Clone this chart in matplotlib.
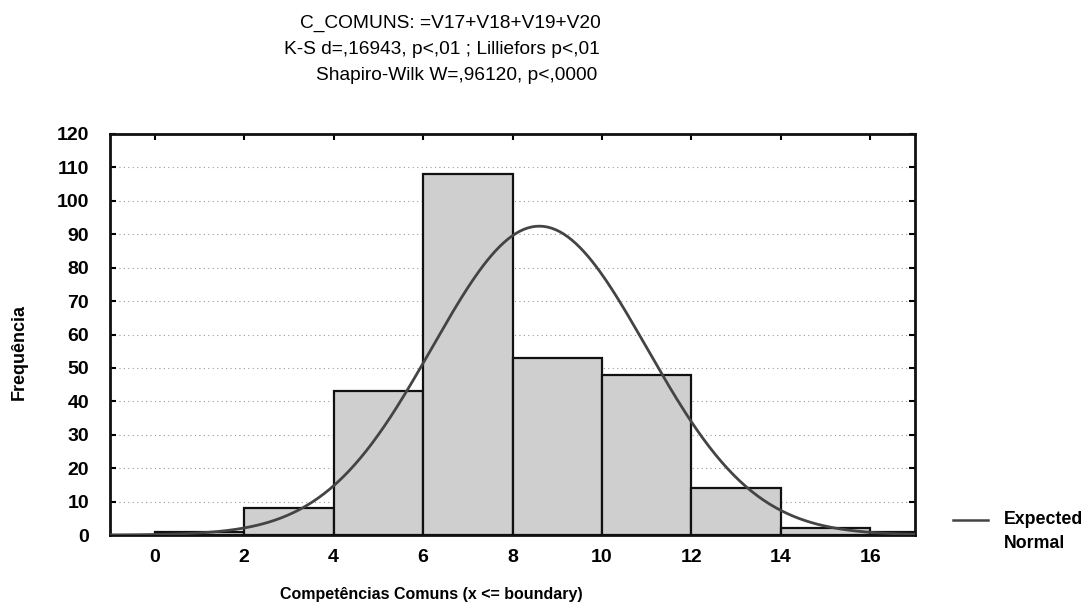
import numpy as np
import matplotlib
matplotlib.use("Agg")
import matplotlib.pyplot as plt

plt.rcParams['font.family'] = ['Liberation Sans', 'DejaVu Sans']

# Data
bin_edges = [0, 2, 4, 6, 8, 10, 12, 14, 16, 18]
counts = [1, 8, 43, 108, 53, 48, 14, 2, 1]
fit_mean = 8.6
fit_sd = 2.4
n_total = sum(counts)
bin_width = 2
x_ticks = [0, 2, 4, 6, 8, 10, 12, 14, 16]
y_ticks = list(range(0, 121, 10))
title_lines = ["C_COMUNS: =V17+V18+V19+V20",
               "K-S d=,16943, p<,01 ; Lilliefors p<,01",
               "Shapiro-Wilk W=,96120, p<,0000"]
x_label = "Competências Comuns (x <= boundary)"
y_label = "Frequência"
legend_lines = ["Expected", "Normal"]

W, H = 1087, 604
fig = plt.figure(figsize=(W / 100, H / 100), dpi=100)
ax = fig.add_axes([110 / W, 1 - 535 / H, (915 - 110) / W, (535 - 134) / H])

lefts = bin_edges[:-1]
widths = np.diff(bin_edges)
ax.bar(lefts, counts, width=widths, align='edge', color='#cfcfcf',
       edgecolor='#111111', linewidth=1.6, zorder=2)

xs = np.linspace(-1, 17, 400)
ys = n_total * bin_width / (fit_sd * np.sqrt(2 * np.pi)) * np.exp(-0.5 * ((xs - fit_mean) / fit_sd) ** 2)
ax.plot(xs, ys, color='#444444', linewidth=2.0, zorder=3)

ax.set_xlim(-1, 17)
ax.set_ylim(0, 120)
ax.set_xticks(x_ticks)
ax.set_yticks(y_ticks)
ax.yaxis.grid(True, linestyle=(0, (1, 3)), color='#999999', linewidth=0.8, zorder=0)
ax.set_axisbelow(True)
ax.tick_params(axis='both', direction='in', length=4, width=1.5,
               top=True, right=True, labelsize=14)
ax.tick_params(axis='x', bottom=False, pad=10)
ax.tick_params(axis='y', pad=15)
for lab in ax.get_xticklabels() + ax.get_yticklabels():
    lab.set_fontweight('bold')
for sp in ax.spines.values():
    sp.set_linewidth(2.0)
    sp.set_color('#111111')

# Titles
fs_title = 13.8
fig.text(450 / W, 1 - 23 / H, title_lines[0], ha='center', va='center', fontsize=fs_title)
fig.text(442 / W, 1 - 49 / H, title_lines[1], ha='center', va='center', fontsize=fs_title)
fig.text(457 / W, 1 - 76 / H, title_lines[2], ha='center', va='center', fontsize=fs_title)

# Axis labels
fig.text(431 / W, 1 - 594 / H, x_label, ha='center', va='center', fontsize=11.5, fontweight='bold')
fig.text(19 / W, 1 - 352 / H, y_label, ha='center', va='center', rotation=90, fontsize=13, fontweight='bold')

# Legend
fig.add_artist(plt.Line2D([953 / W, 988 / W], [1 - 520 / H, 1 - 520 / H],
                          color='#444444', linewidth=1.8))
fig.text(1004 / W, 1 - 519 / H, legend_lines[0], ha='left', va='center', fontsize=12.8, fontweight='bold')
fig.text(1004 / W, 1 - 544 / H, legend_lines[1], ha='left', va='center', fontsize=12.8, fontweight='bold')

fig.savefig("out.png", dpi=100)
